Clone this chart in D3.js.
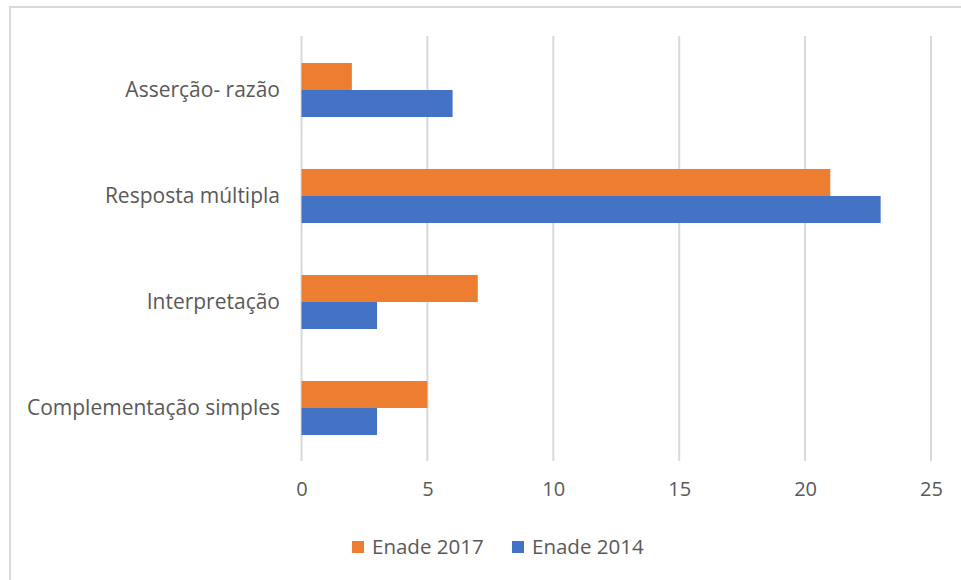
<!DOCTYPE html>
<html><head><meta charset="utf-8">
<script src="https://cdn.jsdelivr.net/npm/d3@7"></script>
<style>body{margin:0;background:#fff;} svg{display:block;}</style>
</head><body>
<svg id="c" width="961" height="580"></svg>
<script>
const categories = ["Asserção- razão", "Resposta múltipla", "Interpretação", "Complementação simples"];
const seriesNames = ["Enade 2017", "Enade 2014"];
const enade2017 = [2, 21, 7, 5];
const enade2014 = [6, 23, 3, 3];
const xTicks = [0, 5, 10, 15, 20, 25];
const colors = ["#ED7D31", "#4472C4"];

const svg = d3.select("#c");
const font = "'Open Sans', sans-serif";
const textColor = "#595959";

// frame
svg.append("path").attr("d", "M10,580 L10,7 L961,7").attr("fill", "none").attr("stroke", "#d9d9d9").attr("stroke-width", 2);

const x = d3.scaleLinear().domain([0, 25]).range([301.5, 931]);
const y = d3.scaleBand().domain(categories).range([37, 461]).paddingInner(0.49).paddingOuter(0.245);
const ySub = d3.scaleBand().domain(seriesNames).range([0, y.bandwidth()]);

// gridlines
svg.append("g").selectAll("line").data(xTicks).join("line")
  .attr("x1", d => x(d)).attr("x2", d => x(d)).attr("y1", 36).attr("y2", 461)
  .attr("stroke", "#d9d9d9").attr("stroke-width", 2);

const data = categories.map((c, i) => ({cat: c, vals: [enade2017[i], enade2014[i]]}));
const g = svg.append("g");
data.forEach(d => {
  d.vals.forEach((v, j) => {
    g.append("rect")
      .attr("x", x(0)).attr("y", y(d.cat) + ySub(seriesNames[j]))
      .attr("width", x(v) - x(0)).attr("height", ySub.bandwidth())
      .attr("fill", colors[j]);
  });
});

// x axis
const xAxis = d3.axisBottom(x).tickValues(xTicks).tickSize(0).tickPadding(0);
const xa = svg.append("g").attr("transform", "translate(0,482)").call(xAxis);
xa.select(".domain").remove();
xa.selectAll("text").attr("font-family", font).attr("font-size", 20).attr("fill", textColor).attr("dy", "0.71em").attr("y", 0);

// y axis
const yAxis = d3.axisLeft(y).tickSize(0).tickPadding(0);
const ya = svg.append("g").attr("transform", "translate(280,0)").call(yAxis);
ya.select(".domain").remove();
ya.selectAll("text").attr("font-family", font).attr("font-size", 21).attr("fill", textColor);

// legend
const legend = svg.append("g");
const lx = [352, 512];
seriesNames.forEach((s, i) => {
  legend.append("rect").attr("x", lx[i]).attr("y", 541).attr("width", 12).attr("height", 12).attr("fill", colors[i]);
  legend.append("text").attr("x", lx[i] + 20).attr("y", 547).attr("dy", "0.35em")
    .attr("font-family", font).attr("font-size", 20.5).attr("fill", textColor).text(s);
});
</script>
</body></html>
